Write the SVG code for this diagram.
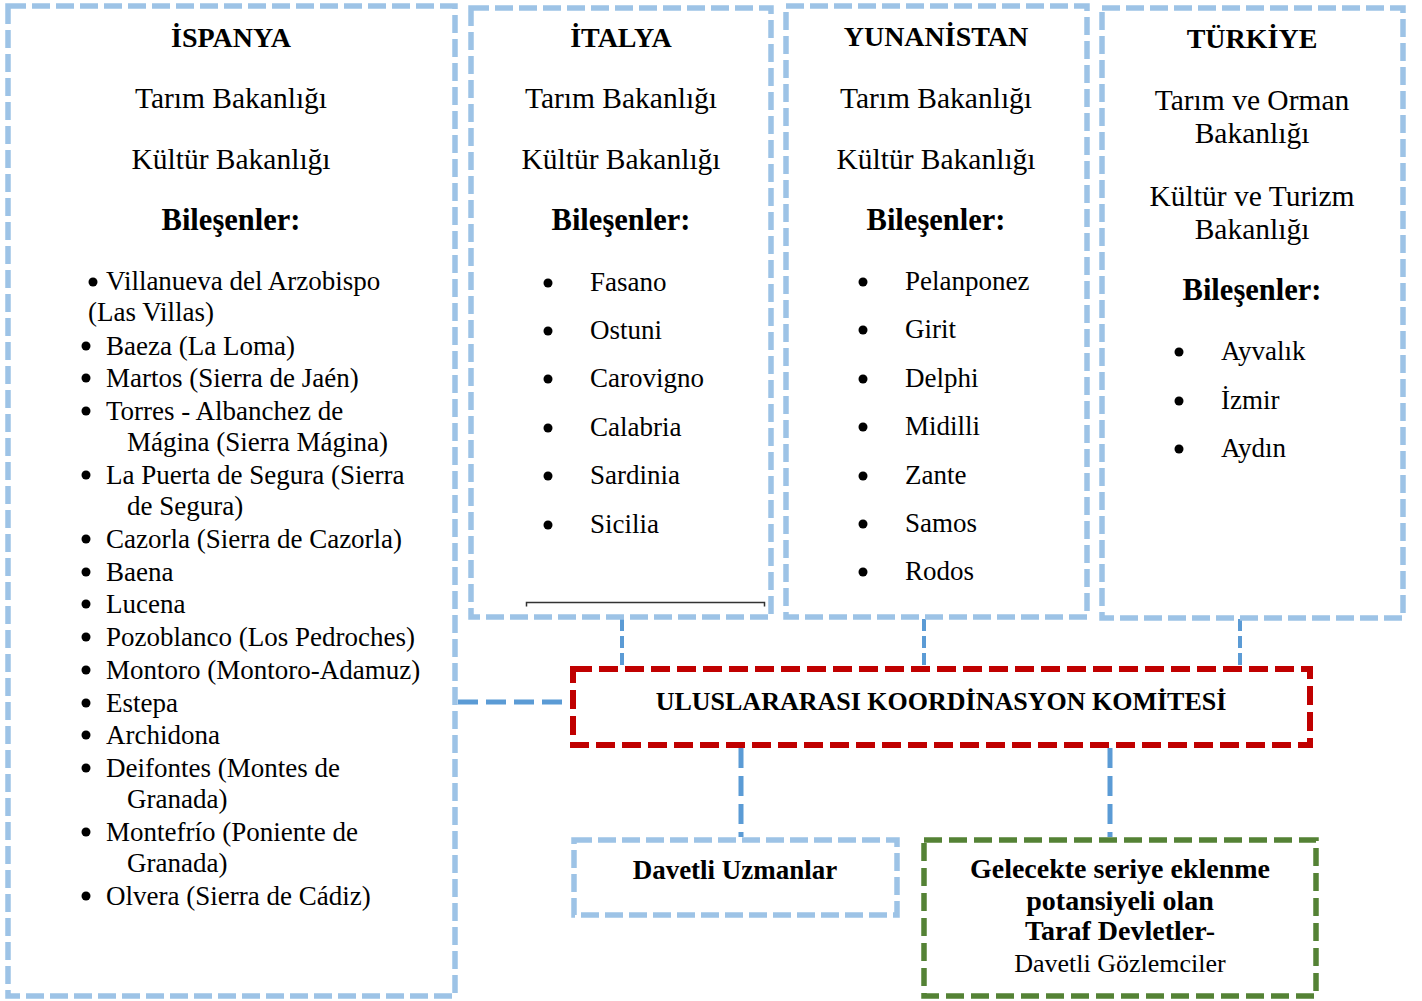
<svg xmlns="http://www.w3.org/2000/svg" width="1422" height="1001" viewBox="0 0 1422 1001">
<style>
text{font-family:"Liberation Serif","Times New Roman",serif;fill:#000}
.h{font-size:28px;font-weight:bold;text-anchor:middle}
.m{font-size:29.5px;text-anchor:middle}
.b{font-size:30.5px;font-weight:bold;text-anchor:middle}
.li{font-size:27px}
.box{fill:none;stroke:#9DC3E6;stroke-width:5.5;stroke-dasharray:18 6}
.red{fill:none;stroke:#C00000;stroke-width:6;stroke-dasharray:19 7}
.green{fill:none;stroke:#548235;stroke-width:5.5;stroke-dasharray:18 7}
.con{fill:none;stroke:#5B9BD5;stroke-dasharray:20 8}
.g{font-size:27px;font-weight:bold;text-anchor:middle}
.gg{font-size:28px;font-weight:bold;text-anchor:middle}
</style>
<rect width="1422" height="1001" fill="#fff"/>
<g id="connectors">
<line class="con" x1="458" y1="702" x2="572" y2="702" stroke-width="5"/>
<line class="con" x1="622" y1="619" x2="622" y2="667" stroke-width="4" style="stroke-dasharray:12 5"/>
<line class="con" x1="924" y1="619" x2="924" y2="667" stroke-width="4" style="stroke-dasharray:12 5"/>
<line class="con" x1="1240" y1="619" x2="1240" y2="667" stroke-width="4" style="stroke-dasharray:12 5"/>
<line class="con" x1="741" y1="748" x2="741" y2="837" stroke-width="5"/>
<line class="con" x1="1110" y1="748" x2="1110" y2="837" stroke-width="5"/>
</g>
<g id="ispanya">
<rect class="box" x="8" y="6" width="447" height="990"/>
<text class="h" x="231" y="47">İSPANYA</text>
<text class="m" x="231" y="108">Tarım Bakanlığı</text>
<text class="m" x="231" y="169">Kültür Bakanlığı</text>
<text class="b" x="231" y="230">Bileşenler:</text>
<g>
<circle cx="93" cy="282" r="4.5"/>
<text class="li" x="106" y="290">Villanueva del Arzobispo</text>
<text class="li" x="88" y="321">(Las Villas)</text>
<circle cx="86" cy="346" r="4.5"/><text class="li" x="106" y="355">Baeza (La Loma)</text>
<circle cx="86" cy="378" r="4.5"/><text class="li" x="106" y="387">Martos (Sierra de Jaén)</text>
<circle cx="86" cy="411" r="4.5"/><text class="li" x="106" y="420">Torres - Albanchez de</text>
<text class="li" x="127" y="451">Mágina (Sierra Mágina)</text>
<circle cx="86" cy="475" r="4.5"/><text class="li" x="106" y="484">La Puerta de Segura (Sierra</text>
<text class="li" x="127" y="515">de Segura)</text>
<circle cx="86" cy="539" r="4.5"/><text class="li" x="106" y="548">Cazorla (Sierra de Cazorla)</text>
<circle cx="86" cy="572" r="4.5"/><text class="li" x="106" y="581">Baena</text>
<circle cx="86" cy="604" r="4.5"/><text class="li" x="106" y="613">Lucena</text>
<circle cx="86" cy="637" r="4.5"/><text class="li" x="106" y="646">Pozoblanco (Los Pedroches)</text>
<circle cx="86" cy="670" r="4.5"/><text class="li" x="106" y="679">Montoro (Montoro-Adamuz)</text>
<circle cx="86" cy="703" r="4.5"/><text class="li" x="106" y="712">Estepa</text>
<circle cx="86" cy="735" r="4.5"/><text class="li" x="106" y="744">Archidona</text>
<circle cx="86" cy="768" r="4.5"/><text class="li" x="106" y="777">Deifontes (Montes de</text>
<text class="li" x="127" y="808">Granada)</text>
<circle cx="86" cy="832" r="4.5"/><text class="li" x="106" y="841">Montefrío (Poniente de</text>
<text class="li" x="127" y="872">Granada)</text>
<circle cx="86" cy="896" r="4.5"/><text class="li" x="106" y="905">Olvera (Sierra de Cádiz)</text>
</g>
</g>
<g id="italya">
<rect class="box" x="471" y="8" width="300" height="609"/>
<text class="h" x="621" y="47">İTALYA</text>
<text class="m" x="621" y="108">Tarım Bakanlığı</text>
<text class="m" x="621" y="169">Kültür Bakanlığı</text>
<text class="b" x="621" y="230">Bileşenler:</text>
<circle cx="548" cy="283" r="4.5"/><text class="li" x="590" y="291">Fasano</text>
<circle cx="548" cy="331" r="4.5"/><text class="li" x="590" y="339">Ostuni</text>
<circle cx="548" cy="379" r="4.5"/><text class="li" x="590" y="387">Carovigno</text>
<circle cx="548" cy="428" r="4.5"/><text class="li" x="590" y="436">Calabria</text>
<circle cx="548" cy="476" r="4.5"/><text class="li" x="590" y="484">Sardinia</text>
<circle cx="548" cy="525" r="4.5"/><text class="li" x="590" y="533">Sicilia</text>
<path d="M526.5 606.5V602.5H764.5V606.5" fill="none" stroke="#333" stroke-width="1.5"/>
</g>
<g id="yunanistan">
<rect class="box" x="786" y="6" width="301" height="611"/>
<text class="h" x="936" y="46">YUNANİSTAN</text>
<text class="m" x="936" y="108">Tarım Bakanlığı</text>
<text class="m" x="936" y="169">Kültür Bakanlığı</text>
<text class="b" x="936" y="230">Bileşenler:</text>
<circle cx="863" cy="282" r="4.5"/><text class="li" x="905" y="290">Pelanponez</text>
<circle cx="863" cy="330" r="4.5"/><text class="li" x="905" y="338">Girit</text>
<circle cx="863" cy="379" r="4.5"/><text class="li" x="905" y="387">Delphi</text>
<circle cx="863" cy="427" r="4.5"/><text class="li" x="905" y="435">Midilli</text>
<circle cx="863" cy="476" r="4.5"/><text class="li" x="905" y="484">Zante</text>
<circle cx="863" cy="524" r="4.5"/><text class="li" x="905" y="532">Samos</text>
<circle cx="863" cy="572" r="4.5"/><text class="li" x="905" y="580">Rodos</text>
</g>
<g id="turkiye">
<rect class="box" x="1102" y="8" width="301" height="610"/>
<text class="h" x="1252" y="48">TÜRKİYE</text>
<text class="m" x="1252" y="110">Tarım ve Orman</text>
<text class="m" x="1252" y="143">Bakanlığı</text>
<text class="m" x="1252" y="206">Kültür ve Turizm</text>
<text class="m" x="1252" y="239">Bakanlığı</text>
<text class="b" x="1252" y="300">Bileşenler:</text>
<circle cx="1179" cy="352" r="4.5"/><text class="li" x="1221" y="360">Ayvalık</text>
<circle cx="1179" cy="401" r="4.5"/><text class="li" x="1221" y="409">İzmir</text>
<circle cx="1179" cy="449" r="4.5"/><text class="li" x="1221" y="457">Aydın</text>
</g>
<g id="komite">
<rect class="red" x="573" y="669" width="737" height="76"/>
<text class="g" x="941" y="710" style="font-size:26px">ULUSLARARASI KOORDİNASYON KOMİTESİ</text>
</g>
<g id="uzmanlar">
<rect class="box" x="574" y="840" width="323" height="75"/>
<text class="g" x="735" y="879">Davetli Uzmanlar</text>
</g>
<g id="gozlemciler">
<rect class="green" x="924" y="840" width="392" height="156"/>
<text class="gg" x="1120" y="878">Gelecekte seriye eklenme</text>
<text class="gg" x="1120" y="910">potansiyeli olan</text>
<text class="gg" x="1120" y="940">Taraf Devletler-</text>
<text x="1120" y="972" style="font-size:26px;text-anchor:middle">Davetli Gözlemciler</text>
</g>
</svg>
